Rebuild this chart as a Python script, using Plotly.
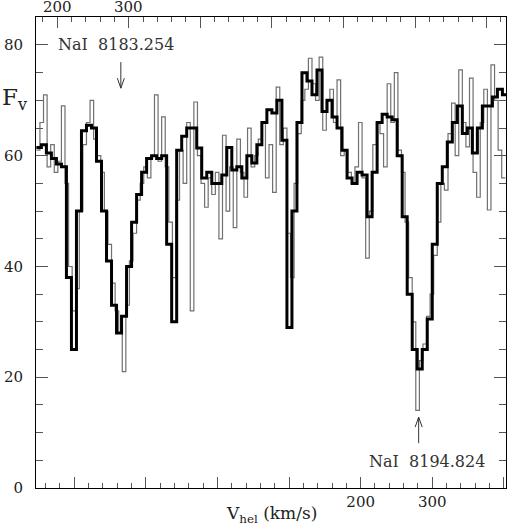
import numpy as np
import plotly.graph_objects as go

# velocity grid (km/s, relative to NaI 8194.824)
V_START = -253.0
BLACK_STEP = 7.0
GRAY_STEP = 5.0
TOP_OFFSET = 424.0  # velocity shift between the two NaI lines

black_flux = [
    61.5, 62, 60.5, 59.5, 58.5, 58, 38, 25, 50, 64.5,
    65.5, 65, 59, 50, 41, 33, 28, 31, 40, 48,
    53, 57, 59.5, 60, 59.5, 60, 44, 30, 61, 63.5,
    65, 65, 61.4, 56, 57, 55, 55, 56.5, 61.5, 57.4,
    58, 56, 60, 58.7, 62, 66, 68.3, 67.7, 70, 62.8,
    29, 50, 66, 75, 73.5, 71, 75.5, 68, 70, 67,
    65, 61, 56, 55, 57, 56.5, 49, 57, 66, 67.5,
    67, 66.5, 60, 49, 35, 25, 21.5, 25, 30.5, 44,
    55, 58, 62.5, 66, 69, 64, 65, 60.5, 65, 69,
    69, 70.6, 72, 71,
]

gray_flux = [
    61, 66, 71, 58, 62, 57, 59, 69, 55, 40,
    32, 36, 50, 62, 66, 70, 63, 60, 57, 50,
    44, 37, 32, 28, 21, 33, 41, 46, 52, 55,
    58, 56, 60, 71, 59, 67, 58, 48, 38, 52,
    61, 55, 66, 32, 69.7, 60, 55, 50.7, 56, 53,
    57, 45, 63.7, 50, 58, 47, 63, 57, 52.5, 65,
    58, 60, 63, 66, 56, 62, 53.4, 72.4, 62, 65,
    46, 38, 55, 64, 70, 72, 77.6, 73, 70, 77.8,
    64.6, 70, 72, 66, 73.7, 60, 61, 57, 55, 58,
    66, 56, 41.5, 50, 62, 66, 64, 58, 73, 66,
    75, 61, 57, 48, 38, 30, 14, 23, 26, 31,
    35, 42, 48, 55, 53.8, 64, 69.5, 60, 75.5, 66,
    61.6, 74, 57, 52.5, 66, 72, 50.2, 76.4, 70, 61,
    56,
]

# systemic velocity of the two NaI arrows
V_LINE_TOP = 289.0   # on the 8183.254 scale (top axis)
V_LINE_BOT = 281.0   # on the 8194.824 scale (bottom axis)

X_RANGE = [-253.5, 403.0]
Y_RANGE = [0, 85.05]

bot_vals = [-200, -100, 0, 100, 200, 300, 400]
bot_text = ["", "", "", "", "200", "300", ""]
top_vals = [200, 300, 400, 500, 600, 700, 800]
top_labels = ["200", "300"]


def edges(start, step, flux):
    x = start + step * np.arange(len(flux) + 1)
    y = list(flux) + [flux[-1]]
    return x, y


fig = go.Figure()

gx, gy = edges(V_START, GRAY_STEP, gray_flux)
fig.add_trace(go.Scatter(
    x=gx, y=gy, mode="lines", line=dict(color="#707070", width=1.2, shape="hv"),
    showlegend=False, hoverinfo="skip",
))

bx, by = edges(V_START, BLACK_STEP, black_flux)
fig.add_trace(go.Scatter(
    x=bx, y=by, mode="lines", line=dict(color="black", width=3, shape="hv"),
    showlegend=False, hoverinfo="skip",
))

# arrows (open V heads)
w = 4.9
fig.add_trace(go.Scatter(
    x=[V_LINE_TOP, V_LINE_TOP, None, V_LINE_TOP - w, V_LINE_TOP, V_LINE_TOP + w],
    y=[76.9, 72.2, None, 74.0, 72.2, 74.0],
    xaxis="x2", mode="lines", line=dict(color="#333", width=1),
    showlegend=False, hoverinfo="skip",
))
fig.add_trace(go.Scatter(
    x=[V_LINE_BOT, V_LINE_BOT, None, V_LINE_BOT - w, V_LINE_BOT, V_LINE_BOT + w],
    y=[8.1, 12.8, None, 11.0, 12.8, 11.0],
    mode="lines", line=dict(color="#333", width=1),
    showlegend=False, hoverinfo="skip",
))

FONT = "DejaVu Serif"
tick_font = dict(family=FONT, size=15, color="#222")

minor_x = dict(tickmode="linear", tick0=0, dtick=20, ticks="inside", ticklen=5, tickcolor="#555", tickwidth=1)

# top-axis labels as annotations so they sit just inside the page edge
top_annots = [
    dict(text=t, xref="x2", yref="paper", x=float(t), y=1.021, yanchor="middle",
         showarrow=False, font=tick_font)
    for t in top_labels
]

fig.update_layout(
    width=509, height=527,
    margin=dict(l=36, r=3, t=17, b=39, autoexpand=False),
    paper_bgcolor="white", plot_bgcolor="white",
    xaxis=dict(
        range=X_RANGE, tickmode="array", tickvals=bot_vals, ticktext=bot_text,
        ticks="inside", ticklen=11, tickcolor="#555", tickwidth=1,
        minor=minor_x, showgrid=False, zeroline=False, automargin=False,
        showline=True, linecolor="black", linewidth=1,
        tickfont=tick_font, ticklabelstandoff=0,
    ),
    xaxis2=dict(
        range=[X_RANGE[0] + TOP_OFFSET, X_RANGE[1] + TOP_OFFSET],
        overlaying="x", side="top", anchor="y",
        tickmode="array", tickvals=top_vals, showticklabels=False,
        ticks="inside", ticklen=11, tickcolor="#555", tickwidth=1,
        minor=minor_x, showgrid=False, zeroline=False, automargin=False,
        showline=True, linecolor="black", linewidth=1,
    ),
    yaxis=dict(
        range=Y_RANGE, tickmode="array", tickvals=[0, 20, 40, 60, 80],
        ticks="inside", ticklen=12, tickcolor="#555", tickwidth=1,
        minor=dict(tickmode="linear", tick0=0, dtick=5, ticks="inside", ticklen=7,
                   tickcolor="#555", tickwidth=1),
        showgrid=False, zeroline=False, mirror="ticks", automargin=False,
        showline=True, linecolor="black", linewidth=1,
        tickfont=tick_font, ticklabelstandoff=9,
    ),
    annotations=top_annots + [
        dict(text="NaI  8183.254", xref="x2", yref="y", x=282, y=80,
             showarrow=False, font=dict(family=FONT, size=16, color="#333")),
        dict(text="NaI  8194.824", xref="x", yref="y", x=293, y=4.7,
             showarrow=False, font=dict(family=FONT, size=16, color="#333")),
        dict(text="F<sub>v</sub>", xref="paper", yref="paper", x=-0.077, y=0.825,
             xanchor="left", yanchor="middle", showarrow=False,
             font=dict(family=FONT, size=23, color="#222")),
        dict(text="V<sub>hel</sub> (km/s)", xref="paper", yref="paper", x=0.5, y=-0.057,
             xanchor="center", yanchor="middle", showarrow=False,
             font=dict(family=FONT, size=17, color="#222")),
    ],
)

# drop the default 8px page margin so the figure sits at the window's corner
fig.write_html("out.html", config={"displayModeBar": False},
               post_script="document.body.style.margin='0';")
